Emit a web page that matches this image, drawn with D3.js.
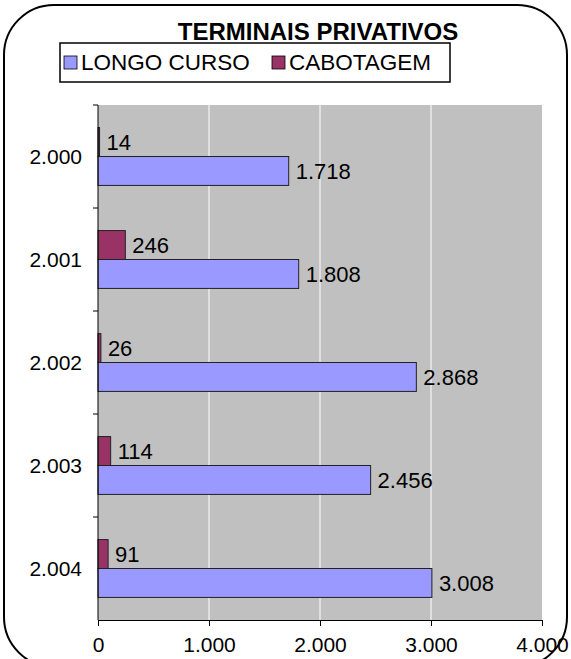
<!DOCTYPE html>
<html>
<head>
<meta charset="utf-8">
<script src="https://cdn.jsdelivr.net/npm/d3@7"></script>
<style>
  body { margin: 0; background: #fff; }
  svg text { font-family: Arial, "Liberation Sans", sans-serif; fill: #000; }
</style>
</head>
<body>
<div id="chart"></div>
<script>
// Data
const years = ["2.000", "2.001", "2.002", "2.003", "2.004"];
const seriesNames = ["CABOTAGEM", "LONGO CURSO"];
const longoCurso = [1718, 1808, 2868, 2456, 3008];
const cabotagem = [14, 246, 26, 114, 91];
const xTicks = [0, 1000, 2000, 3000, 4000];
const colors = {"LONGO CURSO": "#9999FF", "CABOTAGEM": "#993366"};

const W = 571, H = 659;
const plot = {left: 98, right: 542, top: 105, bottom: 620};

const ptBR = d3.formatLocale({decimal: ",", thousands: ".", grouping: [3], currency: ["R$", ""]});
const fmt = ptBR.format(",d");

const svg = d3.select("#chart").append("svg")
    .attr("width", W)
    .attr("height", H);

// outer rounded frame
svg.append("rect")
    .attr("x", 4).attr("y", 5)
    .attr("width", 563).attr("height", 662)
    .attr("rx", 50).attr("ry", 50)
    .attr("fill", "none")
    .attr("stroke", "#000")
    .attr("stroke-width", 2);

// title
svg.append("text")
    .attr("x", 318).attr("y", 40)
    .attr("text-anchor", "middle")
    .style("font-size", "24px")
    .style("font-weight", "bold")
    .text("TERMINAIS PRIVATIVOS");

// legend
const legend = svg.append("g");
legend.append("rect")
    .attr("x", 60).attr("y", 43)
    .attr("width", 390).attr("height", 39)
    .attr("fill", "#fff")
    .attr("stroke", "#000")
    .attr("stroke-width", 1.5);
const legendItems = [
    {name: "LONGO CURSO", x: 64},
    {name: "CABOTAGEM", x: 272}
];
legendItems.forEach(it => {
    legend.append("rect")
        .attr("x", it.x).attr("y", 56)
        .attr("width", 13).attr("height", 13)
        .attr("fill", colors[it.name])
        .attr("stroke", "#000")
        .attr("stroke-width", 0.8);
    legend.append("text")
        .attr("x", it.x + 17).attr("y", 70)
        .style("font-size", "22.5px")
        .text(it.name);
});

// scales
const x = d3.scaleLinear()
    .domain([0, 4000])
    .range([plot.left, plot.right]);

const y = d3.scaleBand()
    .domain(years)
    .range([plot.top, plot.bottom]);

const sub = d3.scaleBand()
    .domain(seriesNames)
    .range([0, y.bandwidth()])
    .paddingOuter(0.78)
    .paddingInner(0);

// plot background
svg.append("rect")
    .attr("x", plot.left).attr("y", plot.top)
    .attr("width", plot.right - plot.left)
    .attr("height", plot.bottom - plot.top)
    .attr("fill", "#C0C0C0");

// gridlines
svg.append("g")
    .selectAll("line")
    .data(xTicks.slice(1, -1))
    .join("line")
    .attr("x1", d => x(d)).attr("x2", d => x(d))
    .attr("y1", plot.top).attr("y2", plot.bottom)
    .attr("stroke", "#fff")
    .attr("stroke-width", 1);

// bars
const rows = years.map((yr, i) => ({
    year: yr,
    values: [
        {name: "CABOTAGEM", value: cabotagem[i]},
        {name: "LONGO CURSO", value: longoCurso[i]}
    ]
}));

const groups = svg.append("g")
    .selectAll("g")
    .data(rows)
    .join("g")
    .attr("transform", d => `translate(0,${y(d.year)})`);

groups.selectAll("rect")
    .data(d => d.values)
    .join("rect")
    .attr("x", x(0))
    .attr("y", d => sub(d.name))
    .attr("width", d => x(d.value) - x(0))
    .attr("height", sub.bandwidth())
    .attr("fill", d => colors[d.name])
    .attr("stroke", "#222")
    .attr("stroke-width", 1);

groups.selectAll("text")
    .data(d => d.values)
    .join("text")
    .attr("x", d => x(d.value) + 7)
    .attr("y", d => sub(d.name) + sub.bandwidth() / 2)
    .attr("dy", "0.36em")
    .style("font-size", "22px")
    .text(d => fmt(d.value));

// x axis
const xAxis = svg.append("g")
    .attr("transform", `translate(0,${plot.bottom})`)
    .call(d3.axisBottom(x).tickValues(xTicks).tickFormat(fmt).tickSize(6).tickPadding(11));
xAxis.select(".domain").attr("stroke", "#000");
xAxis.selectAll("text").style("font-size", "21px").attr("fill", "#000");

// y axis
const yAxis = svg.append("g")
    .attr("transform", `translate(${plot.left},0)`);
yAxis.append("line")
    .attr("x1", 0).attr("x2", 0)
    .attr("y1", plot.top).attr("y2", plot.bottom)
    .attr("stroke", "#000");
yAxis.selectAll(".tick")
    .data(years)
    .join("line")
    .attr("x1", -5).attr("x2", 0)
    .attr("y1", d => y(d)).attr("y2", d => y(d))
    .attr("stroke", "#000");
yAxis.selectAll("text")
    .data(years)
    .join("text")
    .attr("x", -16)
    .attr("y", d => y(d) + y.bandwidth() / 2)
    .attr("dy", "0.36em")
    .attr("text-anchor", "end")
    .style("font-size", "21px")
    .text(d => d);
</script>
</body>
</html>
